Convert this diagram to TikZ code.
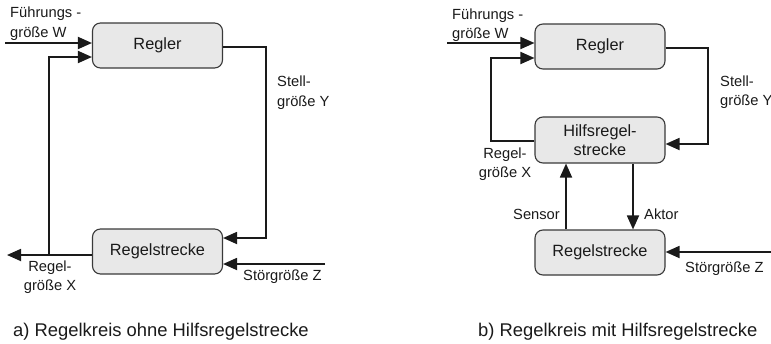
\documentclass[tikz,border=0pt]{standalone}
\usepackage{fontspec}
\setmainfont{Liberation Sans}
\usetikzlibrary{arrows.meta}
\definecolor{boxfill}{HTML}{E8E8E8}
\definecolor{boxline}{HTML}{3A3A3A}
\definecolor{ink}{HTML}{1A1A1A}
\tikzset{
  block/.style={draw=boxline, fill=boxfill, line width=1.1pt, rounded corners=8pt,
    minimum width=130pt, minimum height=45pt, align=center, inner sep=0pt,
    text=ink, font=\fontsize{16.3}{19}\selectfont},
  flow/.style={draw=ink, line width=1.8pt, -{Triangle[length=14pt,width=12pt]}},
  wire/.style={draw=ink, line width=1.8pt},
  lbl/.style={inner sep=0pt, text=ink, font=\fontsize{14.7}{19.5}\selectfont},
  caption/.style={inner sep=0pt, anchor=west, text=ink, font=\fontsize{18.4}{22}\selectfont}
}
\begin{document}
\begin{tikzpicture}[x=1pt,y=-1pt]
\useasboundingbox (0,0) rectangle (771,343);

% ---------- a) control loop without auxiliary plant ----------
\node[block] (regA) at (157.5,45.5) {Regler};
\node[block] (strA) at (157.5,251.5) {Regelstrecke};

\coordinate (wA)   at (5,43);
\coordinate (xA)   at (49,255);
\coordinate (outA) at (7,255);
\coordinate (fbA)  at (49,57);
\coordinate (yA)   at (266,47);
\coordinate (yA2)  at (266,238);
\coordinate (zA)   at (325,264);

\draw[flow] (wA) -- (wA -| regA.west);
\draw[flow] (xA -| strA.west) -- (outA);
\draw[flow] (xA) -- (fbA) -- (fbA -| regA.west);
\draw[flow] (yA -| regA.east) -- (yA) -- (yA2) -- (yA2 -| strA.east);
\draw[flow] (zA) -- (zA -| strA.east);

\node[lbl, anchor=west, align=left] (wAl) at (10,23.5) {Führungs -\\größe W};
\node[lbl, anchor=west, align=left] (yAl) at (277,92.5) {Stell-\\größe Y};
\node[lbl, align=center] (xAl) at (50,277) {Regel-\\größe X};
\node[lbl, anchor=west] (zAl) at (243,277) {Störgröße Z};

\node[caption] (capA) at (13,332) {a) Regelkreis ohne Hilfsregelstrecke};

% ---------- b) control loop with auxiliary plant ----------
\node[block] (regB) at (600,46.5) {Regler};
\node[block, minimum height=46pt] (hB) at (600,140) {Hilfsregel-\\strecke};
\node[block] (strB) at (600,252.5) {Regelstrecke};

\coordinate (wB)   at (447,43);
\coordinate (fbB1) at (491,141);
\coordinate (fbB2) at (491,58);
\coordinate (yB)   at (708,48);
\coordinate (yB2)  at (708,144);
\coordinate (sB)   at (566,200);
\coordinate (aB)   at (633,200);
\coordinate (zB)   at (771,252);

\draw[flow] (wB) -- (wB -| regB.west);
\draw[flow] (fbB1 -| hB.west) -- (fbB1) -- (fbB2) -- (fbB2 -| regB.west);
\draw[flow] (yB -| regB.east) -- (yB) -- (yB2) -- (yB2 -| hB.east);
\draw[flow] (strB.north -| sB) -- (hB.south -| sB);
\draw[flow] (hB.south -| aB) -- (strB.north -| aB);
\draw[flow] (zB) -- (zB -| strB.east);

\node[lbl, anchor=west, align=left] (wBl) at (452,25) {Führungs -\\größe W};
\node[lbl, anchor=west, align=left] (yBl) at (720,92) {Stell-\\größe Y};
\node[lbl, align=center] (xBl) at (505,164) {Regel-\\größe X};
\node[lbl, anchor=east] (sBl) at (560,214) {Sensor};
\node[lbl, anchor=west] (aBl) at (644,214) {Aktor};
\node[lbl, anchor=west] (zBl) at (685,269) {Störgröße Z};

\node[caption] (capB) at (478,332) {b) Regelkreis mit Hilfsregelstrecke};
\end{tikzpicture}
\end{document}
